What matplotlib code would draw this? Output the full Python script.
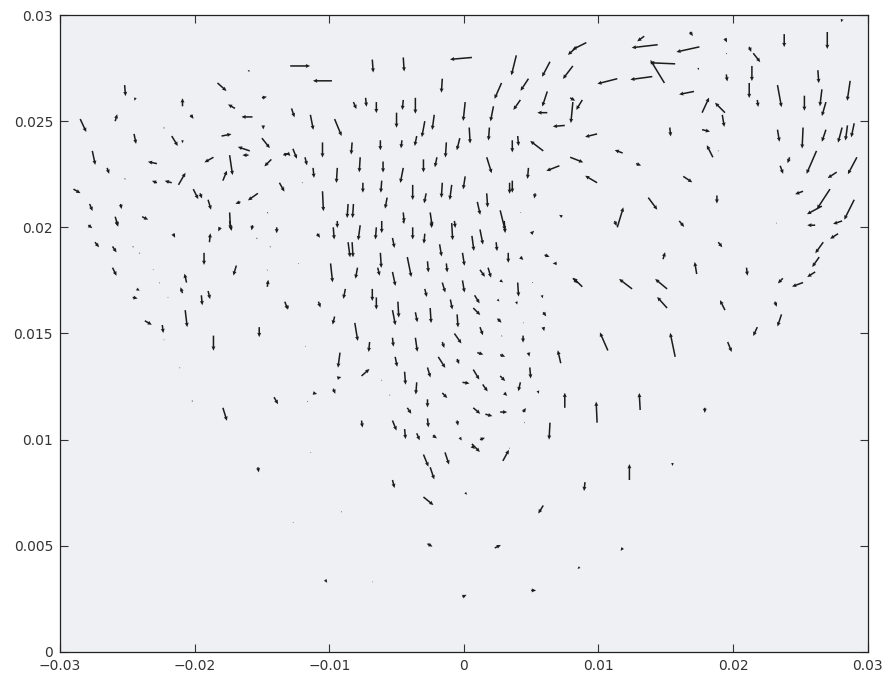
import numpy as np
import matplotlib
matplotlib.use("Agg")
import matplotlib.pyplot as plt

# velocity vectors, positions and components in mm
# (tail x, tail y, u, v); converted to metres below

# upper left
x_ul = [-18.3, -25.2, -24.4, -20.9, -20.3, -17.0, -15.7, -14.9, -15.0, -12.8,
        -15.0, -28.5, -25.9, -24.5, -22.3, -21.7, -20.9, -18.0, -15.9, -16.0,
        -13.1, -12.7, -27.6, -26.5, -25.2, -22.8, -18.6, -17.4, -14.3, -22.8,
        -21.7, -21.2, -17.9, -29.0, -20.1, -19.6, -19.0, -16.6, -15.3, -13.7,
        -27.8, -25.5, -25.9, -23.9, -17.4, -14.6, -16.0]
y_ul = [26.8, 26.7, 26.1, 25.7, 25.3, 25.6, 25.2, 24.8, 24.2, 25.6,
        26.1, 25.1, 25.0, 24.4, 24.7, 24.3, 24.1, 24.3, 23.6, 23.4,
        23.5, 23.7, 23.6, 22.8, 22.3, 23.0, 23.3, 23.4, 23.2, 22.1,
        22.1, 22.0, 22.2, 21.8, 21.8, 21.6, 21.3, 21.2, 21.6, 22.1,
        21.1, 21.1, 20.5, 20.5, 20.7, 20.7, 27.4]
u_ul = [0.67, 0.07, -0.07, 0.0, 0.22, -0.52, -0.82, 0.0, 0.59, 0.22,
        0.37, 0.45, 0.15, 0.15, 0.07, 0.45, 0.0, 0.74, -0.89, -0.45,
        0.22, 0.30, 0.22, 0.15, 0.07, -0.67, -0.67, 0.22, -0.52, -0.37,
        -0.52, 0.52, 0.30, 0.52, 0.37, 0.15, 0.22, -0.37, -0.74, 0.37,
        0.22, 0.07, 0.22, 0.45, 0.07, 0.07, 0.07]
v_ul = [-0.38, -0.52, -0.14, 0.38, -0.19, 0.19, 0.0, -0.19, -0.47, -0.42,
        0.05, -0.61, 0.33, -0.47, -0.05, -0.47, -0.14, 0.09, 0.19, 0.0,
        -0.14, -0.47, -0.66, -0.28, -0.05, 0.09, -0.24, -0.94, -0.33, 0.09,
        0.09, 0.57, 0.47, -0.19, -0.47, -0.24, -0.47, -0.09, -0.33, -0.42,
        -0.33, -0.24, -0.47, -0.14, -0.80, -0.05, -0.09]

# left, middle height
x_ml = [-27.9, -25.8, -27.4, -26.1, -24.6, -24.1, -21.6, -18.9, -18.1, -17.4,
        -15.7, -15.4, -13.9, -14.4, -19.3, -26.1, -23.1, -20.6, -16.9, -14.6,
        -14.6, -22.6, -24.3, -24.6, -22.0, -20.9, -19.5, -19.0, -20.7, -23.7,
        -22.4, -22.3, -18.6, -15.2, -13.3, -12.3, -21.1, -20.2, -17.9, -14.1]
y_ml = [20.1, 20.3, 19.3, 19.1, 19.1, 18.8, 19.7, 19.3, 20.0, 20.3,
        20.1, 19.5, 20.0, 19.1, 18.8, 18.1, 18.0, 17.4, 18.2, 18.0,
        17.2, 17.4, 17.1, 16.7, 16.7, 16.9, 16.8, 17.0, 16.1, 15.6,
        15.4, 14.7, 14.9, 15.3, 16.5, 18.3, 13.4, 11.8, 11.5, 12.0]
u_ml = [0.30, 0.07, 0.30, 0.30, 0.07, 0.05, 0.15, 0.07, -0.15, 0.15,
        -0.07, 0.07, 0.0, 0.05, 0.0, 0.30, 0.07, -0.15, -0.22, 0.0,
        0.07, 0.0, 0.22, 0.37, 0.07, -0.15, 0.07, 0.15, 0.15, 0.52,
        0.07, 0.07, 0.0, 0.0, 0.22, 0.07, 0.0, 0.07, 0.30, 0.30]
v_ml = [-0.14, -0.24, -0.24, -0.28, -0.05, -0.05, -0.19, 0.42, -0.19, -0.47,
        -0.24, -0.05, -0.28, -0.05, -0.57, -0.38, 0.0, 0.42, -0.47, -0.05,
        0.33, -0.05, -0.09, -0.05, 0.0, 0.28, -0.47, -0.38, -0.80, -0.19,
        -0.38, 0.0, -0.71, -0.47, -0.38, 0.0, -0.05, 0.05, -0.61, -0.33]

# bottom part
x_lo = [-11.4, -15.3, -5.3, -3.0, -2.5, -1.4, -3.0, -9.1, -12.7, -2.7,
        -10.3, -6.8, 0.6, 2.9, 0.1, 12.3, 15.5, 9.0, 5.9, 2.3,
        11.8, 8.6, 5.0, -0.1]
y_lo = [9.4, 8.7, 8.1, 9.3, 8.7, 9.4, 7.3, 6.6, 6.1, 5.1,
        3.4, 3.3, 9.8, 9.0, 7.5, 8.1, 8.9, 8.0, 6.9, 4.9,
        4.9, 4.0, 2.9, 2.6]
u_lo = [0.07, 0.07, 0.15, 0.37, 0.30, 0.30, 0.74, 0.05, 0.07, 0.37,
        0.15, 0.07, 0.59, 0.45, 0.15, 0.0, 0.0, -0.07, -0.37, 0.45,
        -0.15, -0.15, 0.37, 0.30]
v_lo = [0.0, -0.24, -0.38, -0.57, -0.57, -0.57, -0.38, 0.0, 0.0, -0.14,
        -0.14, 0.0, -0.38, 0.52, -0.09, 0.75, -0.14, -0.42, -0.38, 0.14,
        -0.14, -0.09, 0.0, 0.09]

# centre, y between about 9.5 and 20.5 mm
x_c = [-9.4, -10.9, -9.7, -7.7, -6.5, -6.1, -4.5, -3.8, -2.9, -2.4,
       -0.9, -0.7, 0.6, 1.2, 2.4, 3.0, 5.0, -8.6, -8.3, -5.3,
       -1.8, -0.1, 3.3, 4.2, 6.0, 6.9, -9.9, -7.9, -6.2, -6.4,
       -4.2, -2.7, -1.3, 1.2, 1.8, 2.7, 5.1, 8.1, -5.3, -1.6,
       -0.1, 4.0, 3.9, 5.8, -8.8, -6.8, -6.5, -2.9, -1.0, 0.8,
       2.5, -13.1, -10.8, -5.3, -4.9, -3.6, -2.5, -0.5, 0.7, 1.2,
       2.5, 4.4, 5.9, 5.9, -9.6, -8.1, -11.8, -7.0, -5.3, -3.6,
       -1.6, -0.7, 2.8, 4.4, -9.2, -5.1, -1.9, -0.5, 1.0, 2.7,
       4.8, 7.2, 4.9, -7.6, -9.4, -6.1, -4.4, -2.7, 0.7, -0.1,
       2.7, 1.4, 4.2, 5.5, 7.5, -11.2, -9.7, -11.6, -5.5, -3.5,
       -1.6, 3.0, -2.7, -4.2, 0.7, 1.6, 2.7, 4.4, 4.5, -7.6,
       -5.3, -2.7, -0.5, 6.4, -4.4, -3.5, -2.3, -0.3, 1.2, 0.6,
       3.4]
y_c = [20.3, 19.7, 20.0, 20.1, 20.0, 20.3, 20.3, 20.0, 19.7, 20.3,
       20.2, 20.3, 19.6, 19.9, 19.3, 20.3, 19.7, 19.3, 19.3, 19.5,
       19.2, 18.8, 18.8, 18.6, 18.7, 18.3, 18.3, 18.1, 18.8, 18.1,
       18.6, 18.4, 18.3, 18.0, 18.1, 17.5, 17.4, 17.6, 17.9, 17.4,
       17.5, 17.4, 16.5, 16.8, 17.1, 17.1, 16.7, 17.1, 16.6, 16.8,
       16.6, 16.3, 16.5, 16.1, 16.5, 16.0, 16.2, 15.9, 16.2, 15.3,
       15.7, 15.5, 16.0, 15.3, 15.8, 15.5, 14.4, 14.6, 14.8, 14.8,
       14.6, 15.0, 14.9, 14.9, 14.1, 13.9, 13.9, 13.8, 14.1, 14.0,
       14.1, 13.6, 13.4, 13.0, 12.9, 12.8, 13.2, 13.4, 13.3, 12.7,
       13.0, 12.6, 12.7, 12.3, 11.5, 12.2, 12.4, 11.8, 12.1, 12.7,
       12.2, 12.2, 11.9, 11.5, 11.5, 11.2, 11.3, 11.3, 10.8, 10.9,
       10.9, 11.0, 10.9, 10.8, 10.5, 10.3, 10.2, 10.1, 10.0, 9.7,
       9.6]
u_c = [0.0, 0.22, 0.07, -0.15, -0.07, 0.0, 0.07, 0.0, -0.07, 0.0,
       0.07, 0.07, 0.15, 0.22, 0.07, 0.07, 0.22, 0.15, 0.07, 0.15,
       0.15, 0.15, 0.0, 0.22, 0.37, -0.30, 0.15, -0.15, 0.07, 0.15,
       0.30, 0.07, 0.07, 0.37, 0.22, 0.22, 0.05, 0.37, 0.22, 0.22,
       0.15, 0.07, 0.07, 0.07, -0.15, 0.0, 0.0, 0.15, 0.15, 0.37,
       0.15, 0.07, 0.15, 0.22, 0.07, 0.15, 0.07, 0.07, 0.52, 0.22,
       0.30, 0.07, 0.22, 0.07, -0.15, 0.22, 0.07, -0.07, 0.07, 0.15,
       0.15, 0.52, 0.05, 0.0, -0.15, 0.15, 0.52, 0.15, 0.45, 0.37,
       0.07, -0.22, 0.07, 0.59, 0.30, 0.05, 0.07, 0.22, 0.45, 0.52,
       0.37, 0.37, -0.15, 0.07, 0.0, 0.30, 0.15, 0.05, 0.05, -0.07,
       0.37, 0.22, 0.0, 0.30, 0.52, 0.52, 0.52, 0.22, 0.05, 0.07,
       0.30, 0.07, 0.07, -0.07, 0.07, 0.22, 0.30, 0.15, 0.37, 0.22,
       0.05]
v_c = [-0.33, -0.19, -0.57, -0.71, -0.57, -0.57, -0.14, -0.57, -0.47, -0.33,
       -0.80, -0.33, -0.71, -0.71, -0.42, -0.57, 0.14, -0.71, -0.71, -0.47,
       -0.57, -0.61, -0.47, -0.14, -0.09, 0.0, -0.89, -0.52, -0.71, -0.38,
       -0.94, -0.52, -0.42, -0.33, -0.47, -0.09, 0.0, -0.24, -0.66, -0.47,
       -0.57, -0.66, -0.14, -0.14, -0.47, -0.57, -0.57, -0.38, -0.47, -0.38,
       -0.09, -0.14, -0.28, -0.71, -0.75, -0.47, -0.71, -0.61, -0.33, -0.38,
       -0.19, 0.0, -0.19, -0.19, -0.38, -0.85, 0.0, -0.47, -0.42, -0.66,
       -0.28, -0.47, -0.05, -0.33, -0.71, -0.47, -0.52, -0.24, -0.09, -0.09,
       -0.19, 0.61, -0.52, 0.33, 0.05, 0.0, -0.61, -0.47, -0.47, -0.05,
       -0.24, -0.33, -0.42, -0.14, 0.71, -0.05, -0.24, 0.0, 0.0, -0.57,
       -0.24, -0.14, -0.38, -0.28, -0.28, -0.09, 0.0, 0.19, 0.0, -0.33,
       -0.47, -0.42, -0.24, -0.80, -0.47, -0.33, -0.14, -0.14, 0.09, -0.14,
       0.0]

# upper centre
x_uc = [-12.9, -9.8, -6.8, -4.5, 0.6, -1.6, 3.9, 6.4, 8.1, 8.4,
        2.8, 4.8, 6.2, 4.2, 6.2, 7.5, 8.1, -11.4, -9.6, -8.2,
        -7.3, -6.5, -5.0, -4.5, -3.6, -2.9, -2.2, 0.1, 2.2, 1.9,
        0.4, -13.4, -11.8, -10.5, -8.3, -6.2, -4.6, -3.5, -1.3, -0.3,
        3.6, 4.0, 5.9, -11.2, -9.4, -7.7, -6.0, -4.5, -3.0, -2.0,
        1.7, 4.8, 7.1, -13.4, -12.0, -10.5, -8.6, -8.2, -7.5, -6.1,
        -5.7, -3.8, -2.8, -1.6, -0.9, 0.1, 1.0, 1.7, 3.4, 3.6,
        5.3, 4.2, 7.3, 2.7, -4.5, -2.5]
y_uc = [27.6, 26.9, 27.9, 28.0, 28.0, 27.0, 28.1, 27.8, 27.6, 28.5,
        26.8, 27.0, 26.4, 26.0, 25.4, 24.8, 25.9, 25.3, 25.1, 25.9,
        26.1, 25.9, 25.4, 26.0, 26.1, 25.0, 25.3, 25.9, 25.7, 24.7,
        24.7, 23.4, 23.3, 24.0, 24.0, 24.1, 24.1, 24.3, 24.0, 24.2,
        24.1, 24.3, 23.6, 22.8, 22.8, 23.3, 23.1, 22.8, 23.2, 23.3,
        23.3, 22.8, 22.9, 21.9, 22.1, 21.7, 21.1, 21.1, 22.1, 22.2,
        21.4, 22.0, 21.6, 22.1, 22.0, 22.4, 21.2, 21.6, 22.1, 22.2,
        21.6, 20.7, 20.5, 20.8, 20.7, 20.7]
u_uc = [1.48, -1.41, 0.07, 0.07, -1.63, -0.07, -0.37, -0.59, -0.74, -0.67,
        -0.52, -0.59, -0.37, -0.52, -0.74, -0.89, -0.15, 0.22, 0.52, 0.22,
        0.07, 0.0, 0.0, -0.07, 0.0, -0.22, -0.15, -0.15, -0.22, -0.07,
        0.07, 0.37, 0.15, 0.0, -0.07, 0.0, -0.07, -0.15, -0.07, -0.22,
        0.0, 0.07, -0.97, 0.07, -0.07, -0.07, 0.0, -0.22, 0.0, -0.15,
        0.37, -0.07, -0.97, 0.05, 0.05, 0.07, -0.07, -0.07, 0.0, -0.07,
        -0.15, 0.0, -0.15, -0.07, -0.15, -0.15, 0.22, 0.07, 0.0, 0.0,
        -0.07, 0.07, -0.22, 0.37, 0.07, 0.15]
v_uc = [0.0, 0.0, -0.61, -0.66, -0.09, -0.66, -0.94, -0.71, -0.61, -0.38,
        -0.75, -0.57, -0.71, -0.47, 0.0, -0.05, -0.99, -0.71, -0.80, -0.33,
        -0.42, -0.52, -0.71, -0.47, -0.75, -0.75, -0.71, -0.89, -0.71, -0.61,
        -0.75, 0.09, -0.38, -0.71, -0.57, -0.47, -0.38, -0.47, -0.71, -0.57,
        -0.57, -0.47, 0.47, -0.47, -0.71, -0.71, -0.52, -0.71, -0.61, -0.47,
        -0.75, -0.52, -0.24, 0.0, 0.0, -0.94, -0.66, -0.66, -0.47, -0.57,
        -0.52, -0.71, -0.47, -0.71, -0.71, -0.61, -0.61, -0.66, -0.52, -0.57,
        -0.24, 0.0, 0.09, -0.94, -0.47, -0.66]

# upper right
x_ur = [9.1, 14.4, 13.4, 17.5, 16.8, 15.7, 14.9, 19.4, 19.5, 17.4,
        11.4, 14.0, 21.2, 21.5, 23.8, 27.0, 28.1, 21.4, 21.2, 21.8,
        19.5, 17.1, 17.7, 19.4, 19.2, 23.3, 25.3, 26.3, 26.6, 28.7,
        26.9, 7.9, 8.8, 15.3, 17.7, 18.5, 18.9, 9.9, 7.9, 11.8,
        12.8, 9.9, 16.3, 23.3, 25.2, 26.9, 28.1, 28.5, 29.0, 26.2,
        23.5, 24.2, 27.7, 29.2, 25.2, 27.2, 26.6, 29.0, 18.8, 13.7,
        11.4, 16.0, 23.2, 26.1, 28.1]
y_ur = [28.7, 28.6, 29.0, 28.5, 29.2, 27.7, 26.8, 28.9, 28.2, 27.5,
        27.0, 27.1, 28.5, 28.2, 29.1, 29.2, 29.8, 27.6, 26.8, 26.0,
        27.2, 26.4, 25.4, 25.4, 25.3, 26.7, 26.2, 27.4, 26.5, 26.9,
        25.9, 26.1, 26.0, 24.7, 24.6, 23.3, 23.6, 24.4, 23.3, 23.5,
        23.0, 22.1, 22.4, 24.6, 24.7, 24.6, 24.7, 24.8, 24.9, 23.6,
        22.9, 23.3, 22.6, 23.3, 21.7, 21.8, 21.0, 21.3, 21.5, 21.4,
        20.0, 20.3, 20.2, 20.1, 20.3]
u_ur = [-1.04, -1.93, -0.52, -1.71, 0.22, -1.86, -1.04, 0.15, 0.05, 0.07,
        -1.48, -1.63, 0.15, 0.52, 0.0, 0.0, -0.07, 0.0, 0.0, 0.07,
        0.07, -1.11, 0.52, -0.74, 0.15, 0.30, 0.0, 0.07, -0.15, -0.22,
        -0.30, 0.37, -0.45, 0.07, 0.59, -0.45, 0.05, -0.89, 0.97, -0.59,
        0.37, -0.89, 0.67, 0.15, -0.07, -0.30, -0.30, -0.15, -0.22, -0.74,
        0.22, -0.15, -0.67, -0.67, -0.59, -0.97, -1.11, -0.74, 0.0, 0.67,
        0.45, 0.37, 0.07, -0.59, -0.67]
v_ur = [-0.33, -0.14, -0.24, -0.24, -0.19, 0.05, 1.08, -0.19, -0.05, -0.09,
        -0.24, -0.14, -0.24, -0.42, -0.61, -0.80, -0.14, -0.71, -0.71, -0.33,
        -0.33, -0.14, 0.71, 0.47, -0.57, -1.04, -0.71, -0.61, -0.80, -0.94,
        -0.66, -0.14, -0.47, -0.42, -0.09, 0.57, 0.0, -0.14, -0.24, 0.14,
        -0.09, 0.33, -0.28, -0.57, -0.99, -0.57, -0.71, -0.71, -0.66, -1.08,
        -0.38, -0.28, -0.28, -0.80, -0.14, -0.94, -0.38, -0.94, -0.38, -0.57,
        0.94, -0.28, 0.0, 0.0, -0.14]

# right, middle height
x_mr = [11.2, 27.8, 26.7, 26.4, 26.1, 23.7, 25.2, 18.9, 14.8, 17.3,
        21.0, 8.8, 12.5, 15.1, 15.1, 19.4, 23.1, 23.6, 21.8, 10.7,
        15.7, 19.6, 13.1, 9.9, 17.9]
y_mr = [20.3, 19.7, 19.3, 18.6, 17.9, 17.6, 17.4, 19.3, 18.5, 17.8,
        18.1, 17.2, 17.1, 17.1, 16.2, 16.1, 16.5, 15.9, 15.3, 14.2,
        13.9, 14.6, 11.4, 10.8, 11.5]
u_mr = [0.15, -0.59, -0.59, -0.52, -0.59, -0.37, -0.82, 0.30, 0.15, -0.15,
        0.07, -0.67, -0.97, -0.89, -0.74, -0.37, 0.15, -0.30, -0.30, -0.59,
        -0.37, 0.30, -0.07, -0.07, 0.0]
v_mr = [-0.24, -0.24, -0.52, -0.47, -0.24, -0.24, -0.19, -0.24, 0.33, 0.57,
        -0.38, 0.42, 0.47, 0.47, 0.52, 0.47, -0.24, -0.57, -0.42, 0.85,
        1.13, -0.47, 0.80, 0.99, -0.24]

x = np.array(x_ul + x_ml + x_lo + x_c + x_uc + x_ur + x_mr) / 1000
y = np.array(y_ul + y_ml + y_lo + y_c + y_uc + y_ur + y_mr) / 1000
u = np.array(u_ul + u_ml + u_lo + u_c + u_uc + u_ur + u_mr) / 1000
v = np.array(v_ul + v_ml + v_lo + v_c + v_uc + v_ur + v_mr) / 1000

xticks = [-0.03, -0.02, -0.01, 0, 0.01, 0.02, 0.03]
yticks = [0, 0.005, 0.01, 0.015, 0.02, 0.025, 0.03]

fig = plt.figure(figsize=(8.89, 6.82), dpi=100)
ax = fig.add_axes([0.0675, 0.044, 0.9085, 0.934])
ax.set_facecolor("#eff0f3")

# thin shafts with small blob-like heads, as in the scanned MATLAB quiver
ax.quiver(x, y, u, v, angles="xy", scale_units="xy", scale=1,
          color="#1c1c1c", width=0.0019, headwidth=2.6, headlength=2.8,
          headaxislength=2.6, minlength=0.6)

ax.set_xlim(-0.03, 0.03)
ax.set_ylim(0, 0.03)
ax.set_xticks(xticks)
ax.set_yticks(yticks)
ax.set_xticklabels([("%g" % t).replace("-", "\u2212") for t in xticks])
ax.set_yticklabels(["%g" % t for t in yticks])
ax.tick_params(direction="in", top=True, right=True, length=6, width=0.8,
               labelsize=10, pad=5, colors="#333333")
for s in ax.spines.values():
    s.set_linewidth(0.9)
    s.set_color("#222222")

fig.savefig("out.png", dpi=100, facecolor="white")
